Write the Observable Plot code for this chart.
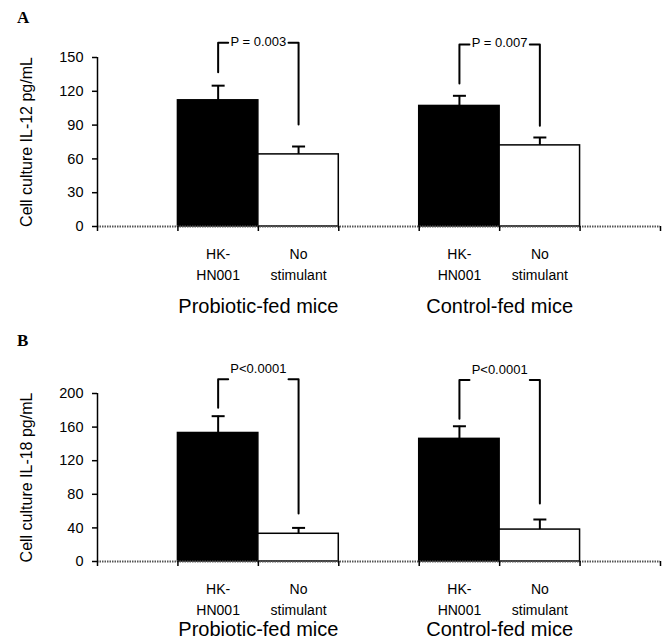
<!DOCTYPE html>
<html>
<head>
<meta charset="utf-8">
<script src="https://cdn.jsdelivr.net/npm/d3@7"></script>
<script src="https://cdn.jsdelivr.net/npm/@observablehq/plot@0.6"></script>
<style>
  body { margin: 0; background: #fff; }
  #wrap { position: relative; width: 664px; height: 642px; font-family: "Liberation Sans", Arial, sans-serif; }
  .panel-letter { position: absolute; font-family: "Liberation Serif", "Times New Roman", serif; font-weight: bold; font-size: 17px; line-height: 1; color: #000; }
  #pa { position: absolute; left: 0; top: 0; }
  #pb { position: absolute; left: 0; top: 320px; }
  g[aria-label="group-label"] text { letter-spacing: 0.6px; }
  g[aria-label="y-title"] text { letter-spacing: 1px; }
  g[aria-label="treatment-label"] text { letter-spacing: 0.2px; }
</style>
</head>
<body>
<div id="wrap">
  <div class="panel-letter" style="left:17px;top:9px">A</div>
  <div class="panel-letter" style="left:17px;top:332px">B</div>
  <div id="pa"></div>
  <div id="pb"></div>
</div>
<script>
// ---- data ----
const groups = ["Probiotic-fed mice", "Control-fed mice"];
const treatments = ["HK-\nHN001", "No\nstimulant"];

const il12Title = "Cell culture IL-12 pg/mL";
const il12Mean = [112, 64, 107, 72];
const il12Err = [13, 7, 9, 7];
const il12Ticks = [0, 30, 60, 90, 120, 150];
const il12P = ["P = 0.003", "P = 0.007"];
const il12BracketTop = [163, 161.5];
const il12LegLeft = [137, 127];
const il12LegRight = [90.5, 89.5];

const il18Title = "Cell culture IL-18 pg/mL";
const il18Mean = [153, 33, 146, 38];
const il18Err = [20, 7, 15, 12];
const il18Ticks = [0, 40, 80, 120, 160, 200];
const il18P = ["P<0.0001", "P<0.0001"];
const il18BracketTop = [217, 216];
const il18LegLeft = [183, 170];
const il18LegRight = [57, 69];

// ---- drawing ----
const capSymbol = {
  draw(context) { context.moveTo(-6.5, 0); context.lineTo(6.5, 0); }
};

function panel({title, mean, err, ticks, pLabels, bTop, legL, legR, height, marginTop, marginBottom, groupDy, pDy}) {
  const bars = [];
  groups.forEach((g, gi) => treatments.forEach((t, ti) => {
    const i = gi * 2 + ti;
    const slot = 1 + 3 * gi + ti;
    bars.push({x1: slot, x2: slot + 1, cx: slot + 0.5, mean: mean[i], top: mean[i] + err[i],
               fill: ti === 0 ? "black" : "white", label: t});
  }));
  const stub = 0.125;
  const comps = groups.map((g, gi) => {
    const xL = 1 + 3 * gi + 0.5, xR = xL + 1;
    return {xL, xR, xc: (xL + xR) / 2, top: bTop[gi], legL: legL[gi], legR: legR[gi], p: pLabels[gi]};
  });
  const pts = [];
  comps.forEach((c, k) => {
    pts.push({id: k + "L", x: c.xL, y: c.legL}, {id: k + "L", x: c.xL, y: c.top}, {id: k + "L", x: c.xL + stub, y: c.top});
    pts.push({id: k + "R", x: c.xR - stub, y: c.top}, {id: k + "R", x: c.xR, y: c.top}, {id: k + "R", x: c.xR, y: c.legR});
  });
  const ymax = ticks[ticks.length - 1];
  return Plot.plot({
    width: 664,
    height,
    marginTop,
    marginBottom,
    marginLeft: 97,
    marginRight: 4,
    style: {fontFamily: "Liberation Sans, Arial, sans-serif", fontSize: "13px", color: "black", background: "transparent", overflow: "visible"},
    x: {domain: [0, 7]},
    y: {domain: [0, ymax]},
    color: {type: "identity"},
    marks: [
      Plot.rectY(bars, {x1: "x1", x2: "x2", y1: 0, y2: "mean", fill: "fill", stroke: "black", strokeWidth: 1.5}),
      Plot.ruleX(bars, {x: "cx", y1: "mean", y2: "top", stroke: "black", strokeWidth: 2}),
      Plot.dot(bars, {x: "cx", y: "top", symbol: capSymbol, stroke: "black", strokeWidth: 2, r: 4}),
      Plot.ruleY([0], {stroke: "#555", strokeWidth: 2, strokeDasharray: "1.5,1"}),
      Plot.ruleX([0], {y1: 0, y2: ymax, stroke: "black", strokeWidth: 1.5}),
      Plot.axisY({ticks, tickSize: 5, tickPadding: 9, fontSize: 14.5, label: null, strokeWidth: 1.5}),
      Plot.axisX({ticks: d3.range(8), tickSize: 5, tickFormat: () => "", label: null, strokeWidth: 1.5}),
      Plot.text(bars, {x: "cx", y: 0, text: "label", lineAnchor: "top", dy: 17.5, fontSize: 14, lineHeight: 1.5, ariaLabel: "treatment-label"}),
      Plot.text(groups, {x: (d, i) => 2 + 3 * i, y: 0, text: d => d, dy: groupDy, fontSize: 20, ariaLabel: "group-label"}),
      Plot.line(pts, {x: "x", y: "y", z: "id", stroke: "black", strokeWidth: 2}),
      Plot.text(comps, {x: "xc", y: "top", text: "p", dy: pDy, fontSize: 13}),
      Plot.text([title], {frameAnchor: "left", textAnchor: "middle", text: d => d, dx: -71, rotate: -90, fontSize: 16, ariaLabel: "y-title"})
    ]
  });
}

document.getElementById("pa").append(panel({
  title: il12Title, mean: il12Mean, err: il12Err, ticks: il12Ticks, pLabels: il12P,
  bTop: il12BracketTop, legL: il12LegLeft, legR: il12LegRight,
  height: 320, marginTop: 57, marginBottom: 94, groupDy: 80, pDy: -1.5
}));
document.getElementById("pb").append(panel({
  title: il18Title, mean: il18Mean, err: il18Err, ticks: il18Ticks, pLabels: il18P,
  bTop: il18BracketTop, legL: il18LegLeft, legR: il18LegRight,
  height: 322, marginTop: 73, marginBottom: 81, groupDy: 68, pDy: -10
}));
</script>
</body>
</html>
